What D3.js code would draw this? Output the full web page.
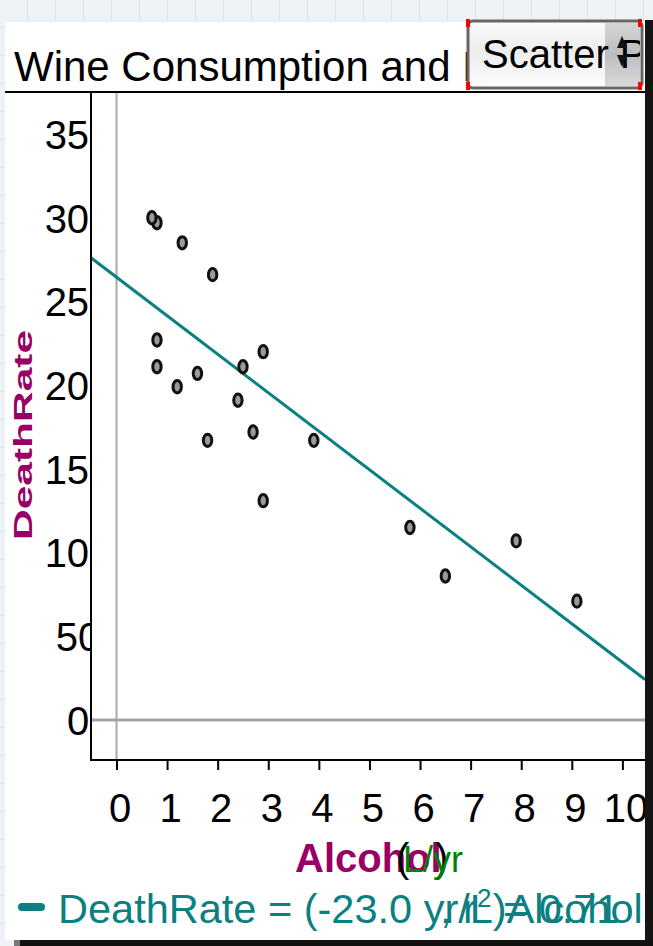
<!DOCTYPE html>
<html>
<head>
<meta charset="utf-8">
<script src="https://cdn.jsdelivr.net/npm/d3@7"></script>
<style>
  html, body { margin: 0; padding: 0; background: #eef2f6; }
  svg { display: block; }
  text { font-family: "Liberation Sans", Arial, Helvetica, sans-serif; }
</style>
</head>
<body>
<svg id="chart" width="653" height="946"></svg>
<script>
// wine consumption vs heart disease deaths, 19 countries
var countries = ["Australia", "Austria", "Belgium", "Canada", "Denmark", "Finland", "France",
  "Iceland", "Ireland", "Italy", "Netherlands", "New Zealand", "Norway", "Spain", "Sweden",
  "Switzerland", "United Kingdom", "United States", "West Germany"];
var alcohol = [2.5, 3.9, 2.9, 2.4, 2.9, 0.8, 9.1, 0.8, 0.7, 7.9, 1.8, 1.9, 0.8, 6.5, 1.6, 5.8, 1.3, 1.2, 2.7];
var deathRate = [211, 167, 131, 191, 220, 297, 71, 211, 300, 107, 167, 266, 227, 86, 207, 115, 285, 199, 172];

var xTicks = [0, 1, 2, 3, 4, 5, 6, 7, 8, 9, 10];
var yTicks = [0, 50, 100, 150, 200, 250, 300, 350];

// fitted line as shown on the plot (slope from the label, intercept)
var fitSlope = -23.0;
var fitIntercept = 264.5;
var fitR2 = 0.71;

var titleText = "Wine Consumption and Heart Disease";
var menuText = "Scatter Plot";

var W = 653, H = 946;
var plot = {left: 91, right: 645, top: 93, bottom: 760};
var fmt = d3.formatLocale({decimal: '.', thousands: ',', grouping: [3], currency: ['', ''], minus: '-'}).format;

var svg = d3.select('#chart');
var defs = svg.append('defs');

// background grid + white card
var pat = defs.append('pattern').attr('id', 'grid')
  .attr('width', 28).attr('height', 28).attr('patternUnits', 'userSpaceOnUse');
pat.append('rect').attr('width', 28).attr('height', 28).attr('fill', '#eef2f6');
pat.append('path').attr('d', 'M27.5,0V28M0,27.5H28').attr('stroke', '#dde6ee').attr('stroke-width', 1);
svg.append('rect').attr('width', W).attr('height', H).attr('fill', 'url(#grid)');
svg.append('rect').attr('x', 5).attr('y', 22).attr('width', 640).attr('height', 918).attr('fill', '#fff');

// dark window edges
svg.append('rect').attr('x', 645).attr('y', 20).attr('width', 8).attr('height', 926).attr('fill', '#141414');
svg.append('rect').attr('x', 14).attr('y', 940).attr('width', 6).attr('height', 6).attr('fill', '#777');
svg.append('rect').attr('x', 20).attr('y', 940).attr('width', 633).attr('height', 6).attr('fill', '#111');

// clip paths (axis ones are in the axis group's own coordinates)
defs.append('clipPath').attr('id', 'plotClip').append('rect')
  .attr('x', plot.left).attr('y', plot.top)
  .attr('width', plot.right - plot.left).attr('height', plot.bottom - plot.top);
defs.append('clipPath').attr('id', 'yLabClip').append('rect')
  .attr('x', -plot.left).attr('y', plot.top).attr('width', plot.left).attr('height', plot.bottom - plot.top + 20);
defs.append('clipPath').attr('id', 'xLabClip').append('rect')
  .attr('x', 0).attr('y', 0).attr('width', 645).attr('height', 100);
defs.append('clipPath').attr('id', 'titleClip').append('rect')
  .attr('x', 5).attr('y', 22).attr('width', 463).attr('height', 70);

// title
svg.append('text')
  .attr('clip-path', 'url(#titleClip)')
  .attr('x', 14).attr('y', 81)
  .attr('font-size', 42).attr('fill', '#000')
  .text(titleText);
svg.append('line')
  .attr('x1', 5).attr('x2', 645).attr('y1', 92).attr('y2', 92)
  .attr('stroke', '#000').attr('stroke-width', 2);

// scales
var x = d3.scaleLinear().domain([0, 10]).range([116.5, 622.4]);
var y = d3.scaleLinear().domain([0, 350]).range([720, 134]);

var g = svg.append('g');
var inner = g.append('g').attr('clip-path', 'url(#plotClip)');

// zero lines
inner.append('line')
  .attr('x1', x(0)).attr('x2', x(0)).attr('y1', plot.top).attr('y2', plot.bottom)
  .attr('stroke', '#a9a9a9').attr('stroke-width', 2);
inner.append('line')
  .attr('x1', plot.left).attr('x2', plot.right).attr('y1', y(0)).attr('y2', y(0))
  .attr('stroke', '#a3a3a3').attr('stroke-width', 3);

// least squares line
var x0 = x.invert(plot.left), x1 = x.invert(plot.right);
inner.append('line')
  .attr('x1', x(x0)).attr('y1', y(fitIntercept + fitSlope * x0))
  .attr('x2', x(x1)).attr('y2', y(fitIntercept + fitSlope * x1))
  .attr('stroke', '#0a8080').attr('stroke-width', 3);

// points
inner.selectAll('ellipse.pt')
  .data(alcohol.map(function(a, i) { return {name: countries[i], a: a, d: deathRate[i]}; }))
  .enter().append('ellipse')
  .attr('class', 'pt')
  .attr('cx', function(d) { return x(d.a); })
  .attr('cy', function(d) { return y(d.d); })
  .attr('rx', 4.2).attr('ry', 6.2)
  .attr('fill', '#9b9b9b')
  .attr('stroke', '#111').attr('stroke-width', 3);

// x axis
var xAxis = g.append('g')
  .attr('transform', 'translate(0,' + plot.bottom + ')')
  .attr('clip-path', 'url(#xLabClip)')
  .call(d3.axisBottom(x).tickValues(xTicks).tickSize(10).tickPadding(24).tickSizeOuter(0));
xAxis.select('.domain').remove();
xAxis.selectAll('.tick line').attr('stroke', '#000').attr('stroke-width', 2);
xAxis.selectAll('.tick text')
  .attr('font-family', '"Liberation Sans", Arial, sans-serif')
  .attr('font-size', 40).attr('fill', '#000').attr('dx', 3);

// y axis (labels overflow the axis and get cut)
var yAxis = g.append('g')
  .attr('transform', 'translate(' + plot.left + ',0)')
  .attr('clip-path', 'url(#yLabClip)')
  .call(d3.axisLeft(y).tickValues(yTicks).tickSize(0).tickSizeOuter(0));
yAxis.select('.domain').remove();
yAxis.selectAll('.tick text')
  .attr('font-family', '"Liberation Sans", Arial, sans-serif')
  .attr('font-size', 40).attr('fill', '#000')
  .attr('text-anchor', 'middle').attr('x', -13).attr('dy', '0.36em');

// axis lines
g.append('line')
  .attr('x1', plot.left).attr('x2', plot.left).attr('y1', plot.top).attr('y2', plot.bottom + 1)
  .attr('stroke', '#000').attr('stroke-width', 2);
g.append('line')
  .attr('x1', plot.left - 1).attr('x2', plot.right).attr('y1', plot.bottom).attr('y2', plot.bottom)
  .attr('stroke', '#000').attr('stroke-width', 2);

// axis titles
svg.append('text')
  .attr('transform', 'translate(32,435) rotate(-90)')
  .attr('text-anchor', 'middle')
  .attr('font-family', '"DejaVu Sans Mono", monospace')
  .attr('font-weight', 'bold').attr('font-size', 26)
  .attr('textLength', 210).attr('lengthAdjust', 'spacingAndGlyphs')
  .attr('fill', '#990066')
  .text('DeathRate');

svg.append('text')
  .attr('x', 295).attr('y', 872)
  .attr('font-weight', 'bold').attr('font-size', 40).attr('fill', '#990066')
  .text('Alcohol');
var unitT = svg.append('text').attr('y', 872).attr('font-size', 40).attr('fill', '#000');
unitT.append('tspan').attr('x', 396).text('(');
unitT.append('tspan').attr('x', 435).text(')');
svg.append('text')
  .attr('x', 403).attr('y', 872)
  .attr('font-size', 36).attr('fill', '#008000')
  .text('L/yr');

// equation legend
svg.append('rect')
  .attr('x', 18).attr('y', 903).attr('width', 27).attr('height', 8).attr('rx', 4)
  .attr('fill', '#0a8080');
svg.append('text')
  .attr('x', 58).attr('y', 923)
  .attr('font-size', 41.5).attr('fill', '#0a8080')
  .text('DeathRate = (' + fmt('.1f')(fitSlope) + ' yr/L)Alcohol');
var r2T = svg.append('text')
  .attr('x', 440).attr('y', 923)
  .attr('font-size', 41.5).attr('fill', '#0a8080');
r2T.append('tspan').text(', r');
r2T.append('tspan').attr('font-size', 26).attr('dy', -16).text('2');
r2T.append('tspan').attr('dy', 16).text(' = ' + fitR2);

// plot type menu
var grad = defs.append('linearGradient').attr('id', 'menuGrad').attr('x1', 0).attr('x2', 0).attr('y1', 0).attr('y2', 1);
grad.append('stop').attr('offset', '0%').attr('stop-color', '#fbfbfb');
grad.append('stop').attr('offset', '45%').attr('stop-color', '#ececec');
grad.append('stop').attr('offset', '100%').attr('stop-color', '#fdfdfd');
var grad2 = defs.append('linearGradient').attr('id', 'btnGrad').attr('x1', 0).attr('x2', 0).attr('y1', 0).attr('y2', 1);
grad2.append('stop').attr('offset', '0%').attr('stop-color', '#d6d6d6');
grad2.append('stop').attr('offset', '50%').attr('stop-color', '#bdbdbd');
grad2.append('stop').attr('offset', '100%').attr('stop-color', '#d9d9d9');
defs.append('clipPath').attr('id', 'menuClip').append('rect')
  .attr('x', 470).attr('y', 23).attr('width', 170).attr('height', 63);

var menu = svg.append('g');
menu.append('rect')
  .attr('x', 468).attr('y', 21).attr('width', 174).attr('height', 67).attr('rx', 5)
  .attr('fill', 'url(#menuGrad)');
menu.append('rect')
  .attr('x', 605).attr('y', 22).attr('width', 36).attr('height', 65)
  .attr('fill', 'url(#btnGrad)').attr('clip-path', 'url(#menuClip)');
menu.append('text')
  .attr('clip-path', 'url(#menuClip)')
  .attr('x', 482).attr('y', 68)
  .attr('font-size', 40).attr('fill', '#000')
  .text(menuText);
menu.append('path').attr('d', 'M617,48 L622,36 L627,48 Z').attr('fill', '#111');
menu.append('path').attr('d', 'M617,55 L622,67 L627,55 Z').attr('fill', '#111');
menu.append('rect')
  .attr('x', 468).attr('y', 21).attr('width', 174).attr('height', 67).attr('rx', 5)
  .attr('fill', 'none').attr('stroke', '#666').attr('stroke-width', 3);
[[466, 19], [638, 19], [466, 82], [638, 82]].forEach(function(c) {
  menu.append('rect').attr('x', c[0]).attr('y', c[1]).attr('width', 4).attr('height', 8).attr('fill', '#f00');
});
</script>
</body>
</html>
